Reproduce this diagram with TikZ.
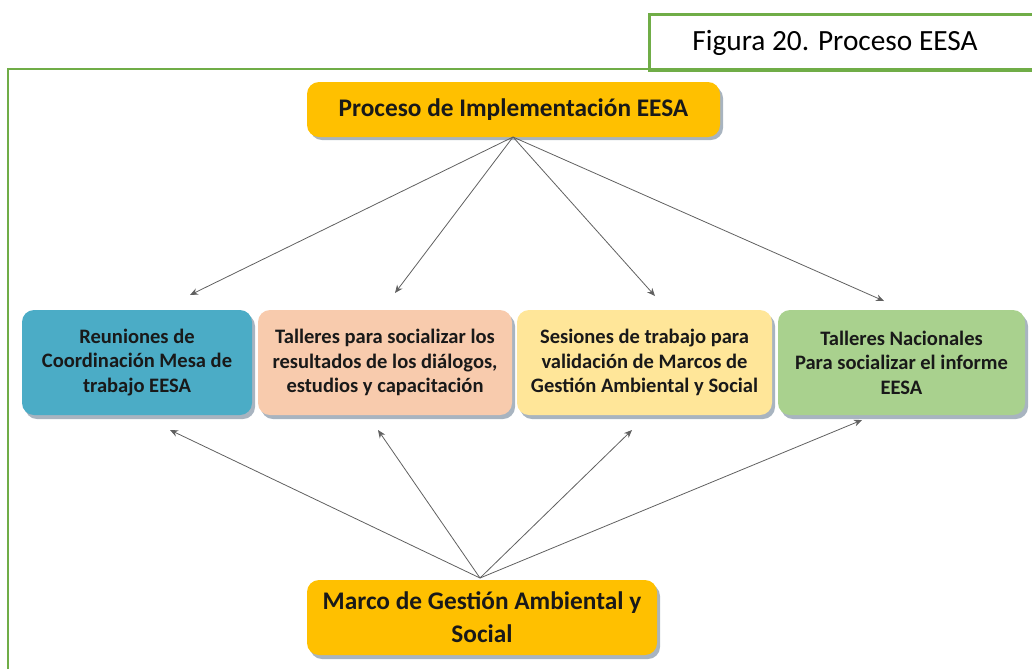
\documentclass[tikz,border=0pt]{standalone}
\usepackage{fontspec}
\setmainfont{Carlito}
\usetikzlibrary{arrows.meta,calc}
\definecolor{frameg}{HTML}{70AD47}
\definecolor{gold}{HTML}{FFC000}
\definecolor{tealb}{HTML}{4BACC6}
\definecolor{peach}{HTML}{F8CBAD}
\definecolor{pyellow}{HTML}{FFE699}
\definecolor{pgreen}{HTML}{A9D18E}
\definecolor{arrg}{HTML}{606060}
\definecolor{shad}{HTML}{A8B4C0}
\tikzset{
  box/.style={draw=none, rounded corners=9pt, align=center, inner sep=0pt,
    font=\bfseries, text=black!90},
  rowbox/.style={box, minimum height=105*0.75pt,
    font=\bfseries\fontsize{15.4pt}{18.4pt}\selectfont},
  shadowbox/.style={fill=shad, rounded corners=9pt},
  conn/.style={draw=arrg, line width=0.6pt, -{Stealth[length=6pt,width=5pt]}},
}
\begin{document}
\begin{tikzpicture}[x=0.75pt,y=-0.75pt]
\useasboundingbox (0,0) rectangle (1032,669);
% frame
\draw[frameg, line width=2pt] (8,669) -- (8,69) -- (1032,69);
\node[draw=frameg, line width=2pt, minimum width=400*0.75pt, minimum height=56*0.75pt,
  anchor=north west, inner sep=0pt] (cap) at (648,13) {};
\node[font=\fontsize{22pt}{24pt}\selectfont] (captxt) at (835,43) {Figura 20. Proceso EESA};
% shadows
\fill[shadowbox] (310,86) rectangle (723,140);
\fill[shadowbox] (25,314) rectangle (255,419);
\fill[shadowbox] (261,314) rectangle (515,419);
\fill[shadowbox] (520,314) rectangle (775,419);
\fill[shadowbox] (781,314) rectangle (1028,419);
\fill[shadowbox] (310,584) rectangle (660,659);
% top
\node[box, fill=gold, minimum width=413*0.75pt, minimum height=55*0.75pt,
  font=\bfseries\fontsize{19pt}{21pt}\selectfont] (top) at (513.5,109.5) {Proceso de Implementación EESA};
% row
\node[rowbox, fill=tealb, minimum width=230*0.75pt] (b1) at (137,362.5)
  {Reuniones de\\Coordinación Mesa de\\trabajo EESA};
\node[rowbox, fill=peach, minimum width=254*0.75pt] (b2) at (385,362.5)
  {Talleres para socializar los\\resultados de los diálogos,\\estudios y capacitación};
\node[rowbox, fill=pyellow, minimum width=255*0.75pt] (b3) at (644.5,362.5)
  {Sesiones de trabajo para\\validación de Marcos de\\Gestión Ambiental y Social};
\node[rowbox, fill=pgreen, minimum width=247*0.75pt] (b4) at (901.5,362.5)
  {Talleres Nacionales\\Para socializar el informe\\EESA};
% bottom
\node[box, fill=gold, minimum width=350*0.75pt, minimum height=75*0.75pt,
  font=\bfseries\fontsize{19pt}{24.5pt}\selectfont] (bot) at (482,617.5)
  {Marco de Gestión Ambiental y\\Social};
% arrow tips
\coordinate (t1) at (190,295);
\coordinate (t2) at (395,293);
\coordinate (t3) at (655,296);
\coordinate (t4) at (884,301);
\coordinate (u1) at (170,430);
\coordinate (u2) at (378,430);
\coordinate (u3) at (632,430);
\coordinate (u4) at (862,420);
\coordinate (ts) at (513,137);
\coordinate (bs) at (480,578);
\foreach \t in {t1,t2,t3,t4} \draw[conn] (ts) -- (\t);
\foreach \u in {u1,u2,u3,u4} \draw[conn] (bs) -- (\u);
\end{tikzpicture}
\end{document}
